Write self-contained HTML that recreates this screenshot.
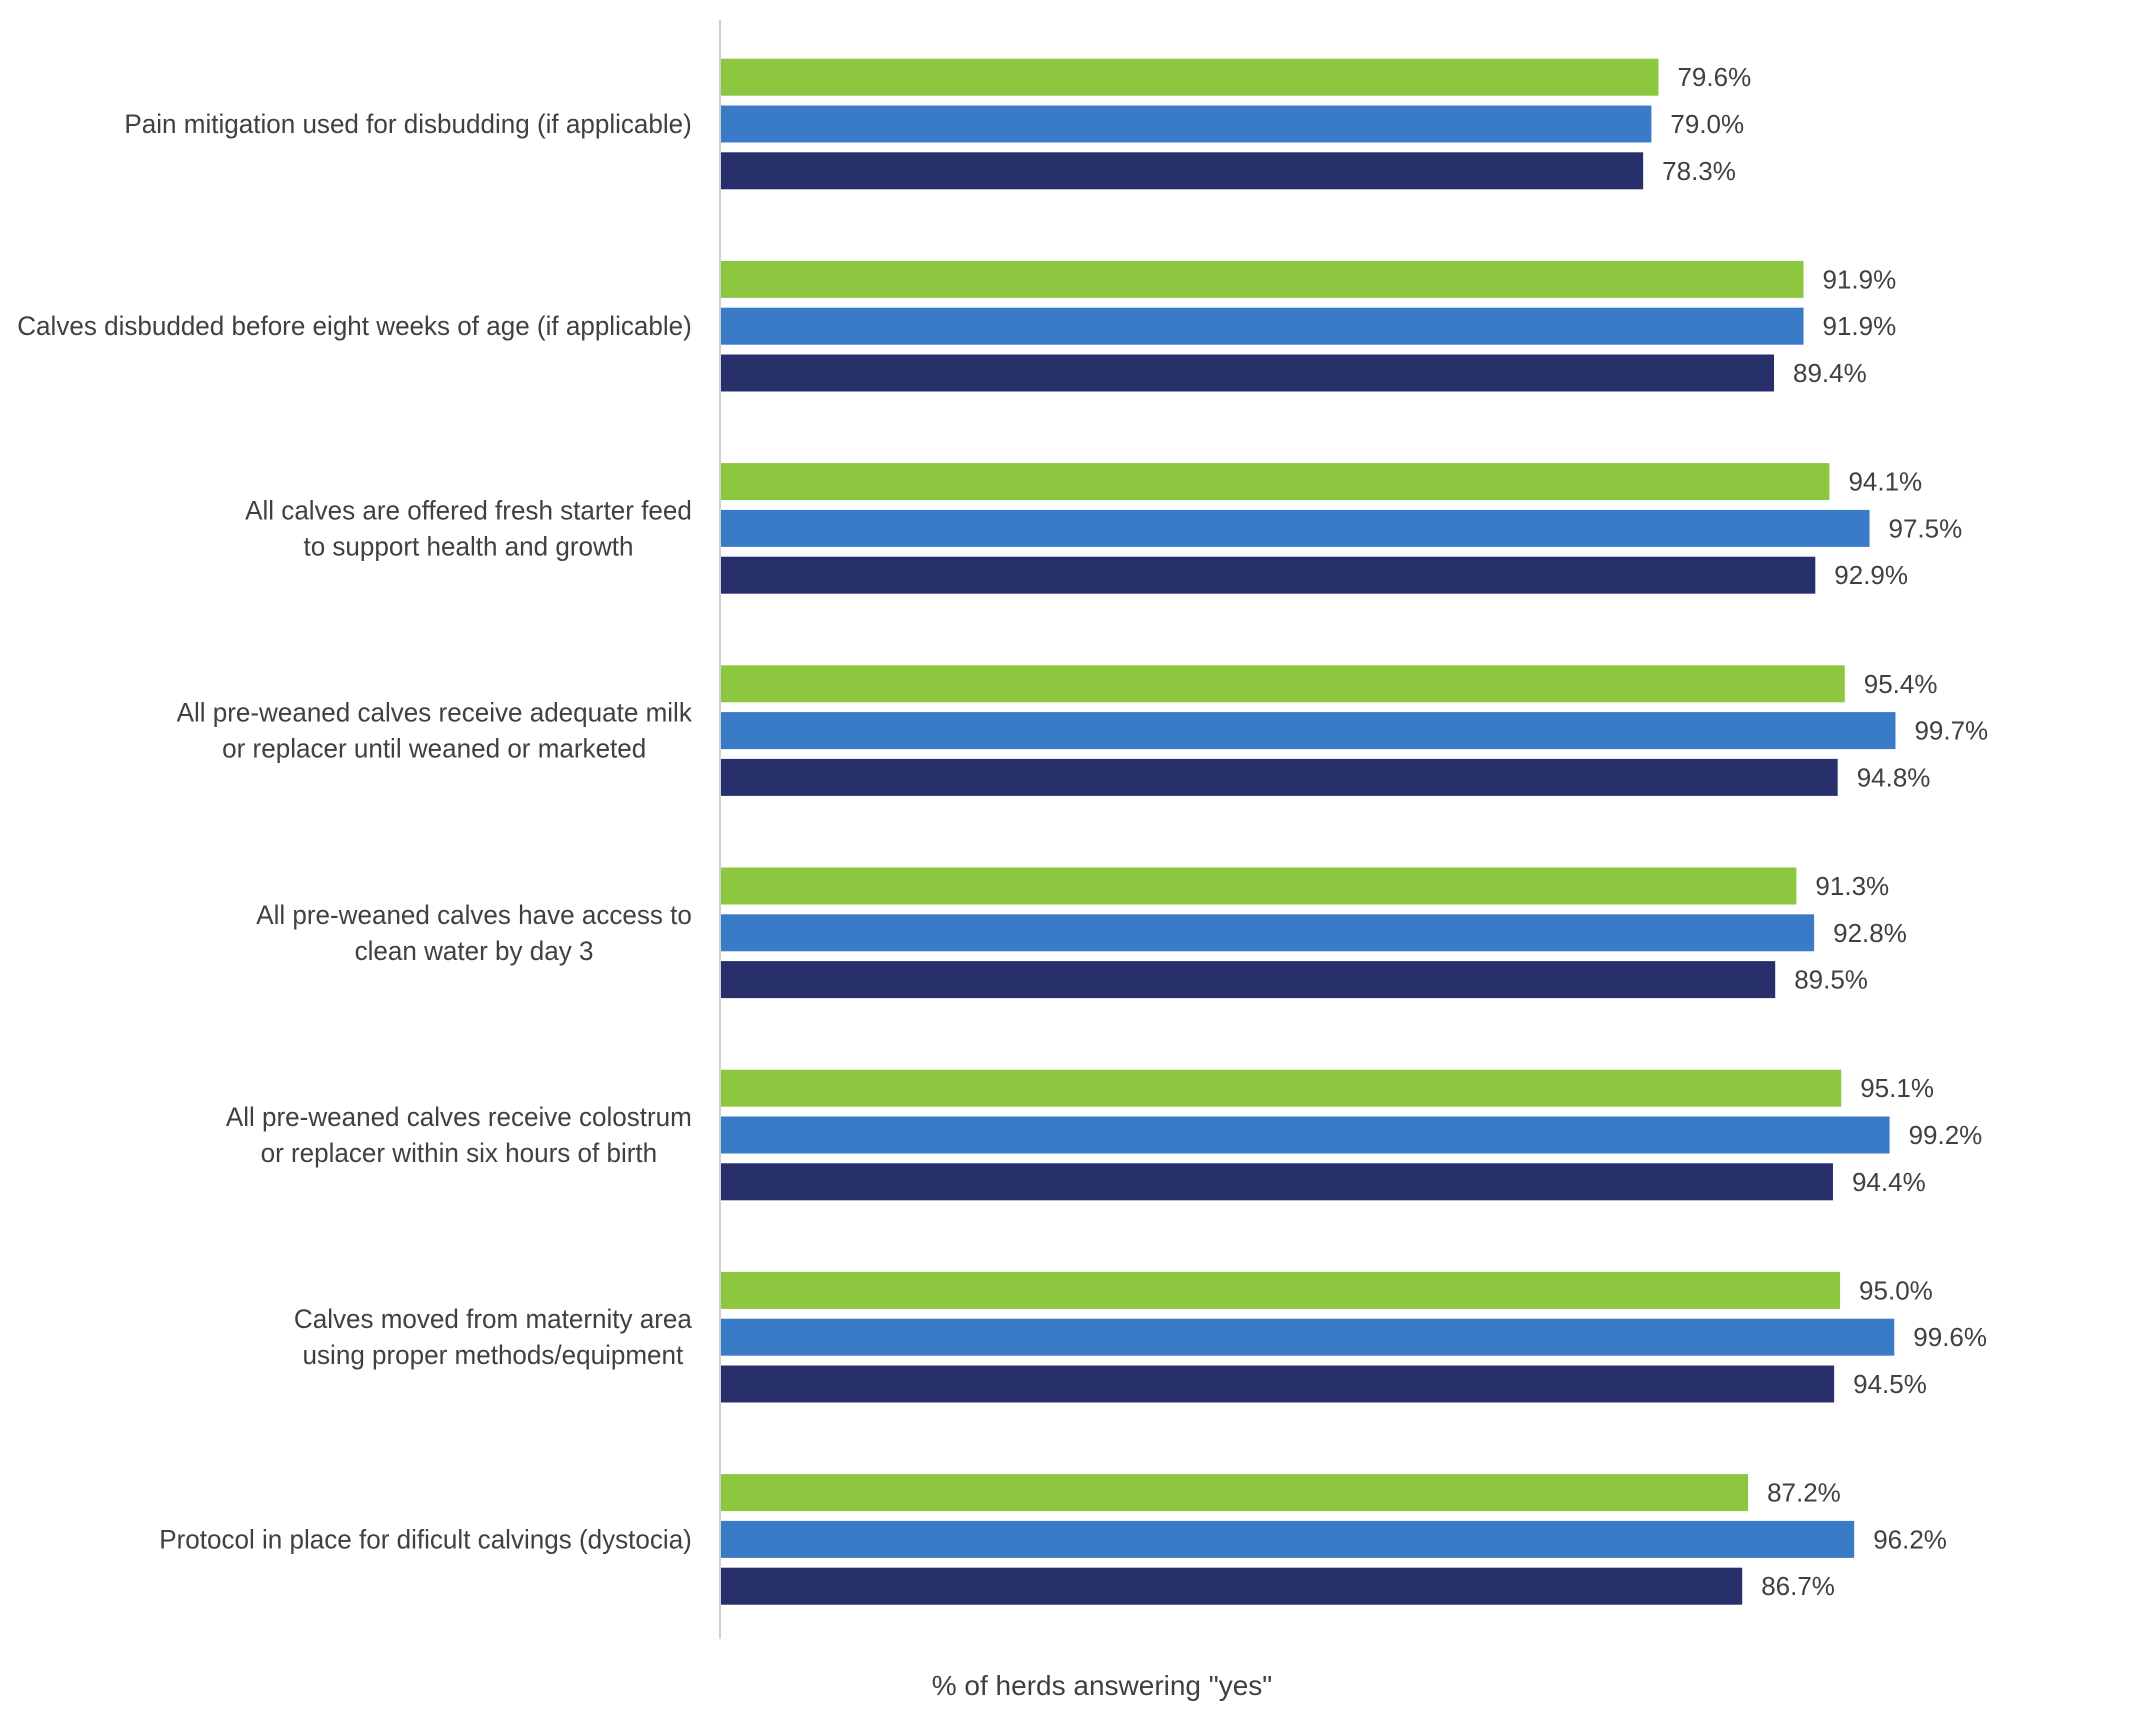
<!DOCTYPE html>
<html><head><meta charset="utf-8"><style>
html,body{margin:0;padding:0;background:#fff;}
svg{display:block;font-family:"Liberation Sans",sans-serif;}
</style></head><body>
<svg id="chart" width="2138" height="1716" viewBox="0 0 2138 1716">
<line x1="720" y1="20" x2="720" y2="1639" stroke="#d0d0d0" stroke-width="2"/>
<g id="bars"></g>
<g id="labels"></g>
<text x="1102" y="1695" text-anchor="middle" font-size="28" fill="#404040">% of herds answering "yes"</text>
</svg>
<script>
const categories = [
  ["Pain mitigation used for disbudding (if applicable)"],
  ["Calves disbudded before eight weeks of age (if applicable)"],
  ["All calves are offered fresh starter feed","to support health and growth"],
  ["All pre-weaned calves receive adequate milk","or replacer until weaned or marketed"],
  ["All pre-weaned calves have access to","clean water by day 3"],
  ["All pre-weaned calves receive colostrum","or replacer within six hours of birth"],
  ["Calves moved from maternity area","using proper methods/equipment"],
  ["Protocol in place for dificult calvings (dystocia)"]
];
const seriesGreen = [79.6, 91.9, 94.1, 95.4, 91.3, 95.1, 95.0, 87.2];
const seriesBlue  = [79.0, 91.9, 97.5, 99.7, 92.8, 99.2, 99.6, 96.2];
const seriesNavy  = [78.3, 89.4, 92.9, 94.8, 89.5, 94.4, 94.5, 86.7];
const valueLabels = [
  ["79.6%","79.0%","78.3%"],["91.9%","91.9%","89.4%"],["94.1%","97.5%","92.9%"],
  ["95.4%","99.7%","94.8%"],["91.3%","92.8%","89.5%"],["95.1%","99.2%","94.4%"],
  ["95.0%","99.6%","94.5%"],["87.2%","96.2%","86.7%"]
];
const NS="http://www.w3.org/2000/svg";
const x0=720, pxPer=11.79;
function xScale(v){return x0+v*pxPer;}
function groupCenter(i){return 124+i*202.2;}
const barH=37, step=46.8;
const colors=["#8DC63F","#3A7BC8","#27306B"];
const series=[seriesGreen,seriesBlue,seriesNavy];
const names=["green","blue","navy"];
const bars=document.getElementById('bars');
const labels=document.getElementById('labels');
categories.forEach((lines,i)=>{
  const c=groupCenter(i);
  series.forEach((s,k)=>{
    const cy=c+(k-1)*step;
    const r=document.createElementNS(NS,'rect');
    
    
    r.setAttribute('x',x0+1);r.setAttribute('y',cy-barH/2);
    r.setAttribute('width',xScale(s[i])-x0-1);r.setAttribute('height',barH);
    r.setAttribute('fill',colors[k]);
    bars.appendChild(r);
    const t=document.createElementNS(NS,'text');
    
    
    t.setAttribute('x',xScale(s[i])+19);t.setAttribute('y',cy+9);
    t.setAttribute('font-size','26');t.setAttribute('fill','#404040');
    t.textContent=valueLabels[i][k];
    bars.appendChild(t);
  });
  const g=document.createElementNS(NS,'g');
  
  
  labels.appendChild(g);
  const sx=0.965;
  const lh=36;
  const top=c-(lines.length-1)*lh/2;
  const ts=lines.map((ln,j)=>{
    const t=document.createElementNS(NS,'text');
    t.setAttribute('font-size','27');t.setAttribute('fill','#404040');
    t.setAttribute('text-anchor','middle');
    t.textContent=ln;g.appendChild(t);return t;
  });
  let maxW=0;ts.forEach(t=>{maxW=Math.max(maxW,t.getComputedTextLength()*sx);});
  const cx=692-maxW/2;
  ts.forEach((t,j)=>{
    t.setAttribute('transform','translate('+cx+','+(top+j*lh+9)+') scale('+sx+',1)');
  });
});
</script>
</body></html>
